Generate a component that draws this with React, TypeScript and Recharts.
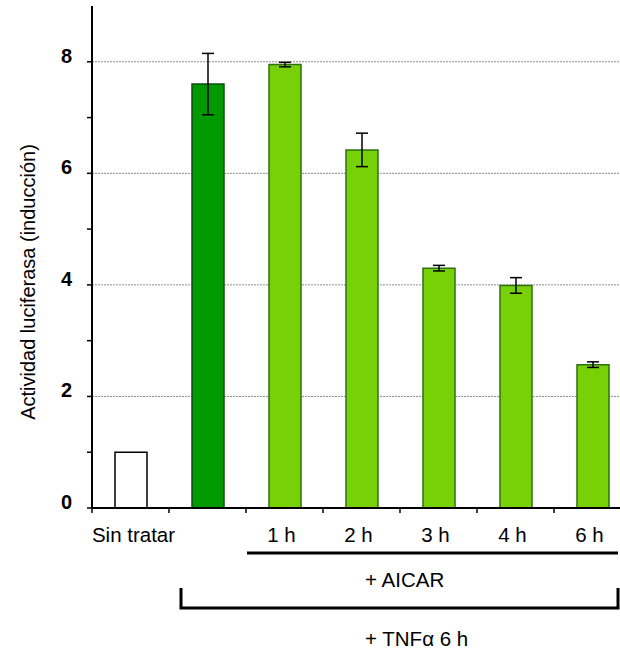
import React from 'react';
import { BarChart, Bar, XAxis, YAxis, CartesianGrid, ErrorBar, Cell } from 'recharts';

// categories along the x axis (the second bar is TNFα alone, no label)
const categories = ['Sin tratar', '', '1 h', '2 h', '3 h', '4 h', '6 h'];
// luciferase activity (fold induction)
const values = [1.0, 7.6, 7.95, 6.42, 4.3, 3.99, 2.57];
// error bar half-lengths
const errors = [null, 0.55, 0.04, 0.3, 0.05, 0.14, 0.05];
const yTicks = [0, 1, 2, 3, 4, 5, 6, 7, 8];
const gridValues = [2, 4, 6, 8];

const chartData = categories.map((name, i) => ({
  id: `c${i}`,
  name,
  value: values[i],
  err: errors[i],
}));

const FONT = 'Arial, "Liberation Sans", sans-serif';

const barFill = (i: number) => (i === 0 ? '#ffffff' : i === 1 ? '#009900' : '#78d007');
const barStroke = (i: number) => (i === 0 ? '#000000' : i === 1 ? '#0f4f0f' : '#2c7212');

const YTick = (props: any) => {
  const { x, y, payload } = props;
  if (payload.value % 2 !== 0) return <g />;
  return (
    <text
      x={x}
      y={y - 6}
      textAnchor="end"
      dominantBaseline="central"
      fontFamily={FONT}
      fontSize={20}
      fontWeight="bold"
      fill="#000"
    >
      {payload.value}
    </text>
  );
};

const XTick = (props: any) => {
  const { x, y, index } = props;
  const half = 38.5;
  const dx = index === 0 ? 3 : -3;
  return (
    <g>
      <line x1={x - half} y1={y} x2={x - half} y2={y + 5} stroke="#000" strokeWidth={1.5} />
      <text x={x + dx} y={y + 34} textAnchor="middle" fontFamily={FONT} fontSize={20.5} fill="#000">
        {categories[index]}
      </text>
    </g>
  );
};

const App: React.FC = () => {
  return (
    <div
      style={{
        position: 'fixed',
        left: 0,
        top: 0,
        width: 620,
        height: 649,
        overflow: 'hidden',
        background: '#fff',
      }}
    >
      <BarChart
        width={640}
        height={649}
        data={chartData}
        margin={{ top: 6, right: 9, left: 0, bottom: 0 }}
      >
        <CartesianGrid
          vertical={false}
          horizontalValues={gridValues}
          stroke="#8c8c8c"
          strokeDasharray="2 1"
        />
        <XAxis
          dataKey="id"
          height={141}
          interval={0}
          axisLine={{ stroke: '#000', strokeWidth: 2 }}
          tickLine={false}
          tickSize={0}
          tickMargin={0}
          tick={<XTick />}
        />
        <YAxis
          type="number"
          domain={[0, 9]}
          ticks={yTicks}
          interval={0}
          width={92}
          axisLine={{ stroke: '#000', strokeWidth: 2 }}
          tickLine={{ stroke: '#000', strokeWidth: 1.5 }}
          tickSize={5}
          tickMargin={15}
          tick={<YTick />}
        />
        <Bar dataKey="value" barSize={32} isAnimationActive={false}>
          {chartData.map((d, i) => (
            <Cell key={d.id} fill={barFill(i)} stroke={barStroke(i)} strokeWidth={1.5} />
          ))}
          <ErrorBar dataKey="err" width={6} stroke="#000" strokeWidth={1.5} isAnimationActive={false} />
        </Bar>
      </BarChart>
      <svg
        width={620}
        height={649}
        style={{ position: 'absolute', left: 0, top: 0, pointerEvents: 'none' }}
      >
        <text
          transform="translate(35,282) rotate(-90)"
          textAnchor="middle"
          fontFamily={FONT}
          fontSize={20}
          fill="#000"
        >
          Actividad luciferasa (inducción)
        </text>
        <line x1={247} y1={553} x2={618} y2={553} stroke="#000" strokeWidth={3} />
        <text x={365} y={587} fontFamily={FONT} fontSize={20.5} fill="#000">
          + AICAR
        </text>
        <path d="M181 588 V608 H618 V588" fill="none" stroke="#000" strokeWidth={3} />
        <text x={365} y={646} fontFamily={FONT} fontSize={20.5} fill="#000">
          + TNFα 6 h
        </text>
      </svg>
    </div>
  );
};

export default App;
